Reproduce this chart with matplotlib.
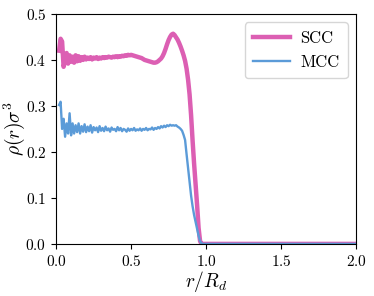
import matplotlib

matplotlib.use("Agg")
import matplotlib.pyplot as plt  # noqa: E402
import numpy as np  # noqa: E402

plt.rcParams.update(
    {
        "font.family": "serif",
        "font.serif": ["cmr10"],
        "mathtext.fontset": "cm",
        "axes.formatter.use_mathtext": True,
        "font.size": 11,
        "axes.spines.top": True,
        "axes.spines.right": True,
    }
)

# radial grid (r / R_d), 0.02 .. 0.98 in steps of 0.01, then flat tail
r = np.round(np.arange(0.02, 0.985, 0.01), 2)
r_tail = [1.0, 2.0]

rho_scc = [
    0.420, 0.446, 0.440, 0.385, 0.398, 0.415, 0.392, 0.410, 0.396, 0.407,
    0.394, 0.410, 0.397, 0.408, 0.398, 0.406, 0.400, 0.407, 0.401, 0.405,
    0.402, 0.406, 0.401, 0.405, 0.403, 0.406, 0.402, 0.405, 0.403, 0.406,
    0.404, 0.406, 0.405, 0.407, 0.406, 0.405, 0.407, 0.406, 0.408, 0.406,
    0.408, 0.407, 0.409, 0.408, 0.410, 0.409, 0.411, 0.410, 0.411, 0.410,
    0.409, 0.408, 0.407, 0.406, 0.405, 0.404, 0.402, 0.400, 0.399, 0.398,
    0.397, 0.396, 0.395, 0.394, 0.394, 0.395, 0.397, 0.400, 0.403, 0.408,
    0.415, 0.424, 0.434, 0.443, 0.450, 0.455, 0.457, 0.454, 0.449, 0.444,
    0.437, 0.429, 0.420, 0.410, 0.398, 0.381, 0.357, 0.325, 0.280, 0.225,
    0.175, 0.130, 0.085, 0.035, 0.006, 0.000, 0.000,
]

rho_mcc = [
    0.302, 0.309, 0.250, 0.272, 0.233, 0.262, 0.240, 0.284, 0.236, 0.262,
    0.240, 0.258, 0.243, 0.262, 0.240, 0.256, 0.244, 0.260, 0.243, 0.255,
    0.245, 0.258, 0.242, 0.254, 0.247, 0.253, 0.243, 0.256, 0.246, 0.252,
    0.245, 0.255, 0.247, 0.251, 0.244, 0.253, 0.248, 0.250, 0.245, 0.254,
    0.247, 0.252, 0.245, 0.250, 0.248, 0.244, 0.251, 0.246, 0.250, 0.247,
    0.252, 0.246, 0.249, 0.247, 0.251, 0.246, 0.250, 0.248, 0.252, 0.247,
    0.250, 0.249, 0.253, 0.248, 0.252, 0.250, 0.254, 0.251, 0.256, 0.253,
    0.257, 0.254, 0.258, 0.256, 0.259, 0.257, 0.258, 0.257, 0.258, 0.255,
    0.253, 0.250, 0.246, 0.237, 0.226, 0.195, 0.165, 0.135, 0.105, 0.082,
    0.063, 0.048, 0.033, 0.018, 0.006, 0.001, 0.000,
]
tail = [0.0, 0.0]

fig = plt.figure(figsize=(3.74, 2.96), dpi=100)
ax = fig.add_axes([0.15, 0.176, 0.802, 0.777])

ax.plot(list(r) + r_tail, rho_scc + tail, color="#dc5fb3", lw=3.2, label="SCC")
ax.plot(list(r) + r_tail, rho_mcc + tail, color="#5b9bd8", lw=1.7, label="MCC")

ax.set_xlim(0, 2)
ax.set_ylim(0, 0.5)
ax.set_xticks([0.0, 0.5, 1.0, 1.5, 2.0])
ax.set_yticks([0.0, 0.1, 0.2, 0.3, 0.4, 0.5])
ax.set_xlabel(r"$r/R_d$", fontsize=14, labelpad=0)
ax.set_ylabel(r"$\rho(r)\sigma^3$", fontsize=14, labelpad=-1)
ax.legend(loc="upper right", fontsize=12, handlelength=2.2, borderpad=0.5,
          handletextpad=0.6)

fig.savefig("out.png")
